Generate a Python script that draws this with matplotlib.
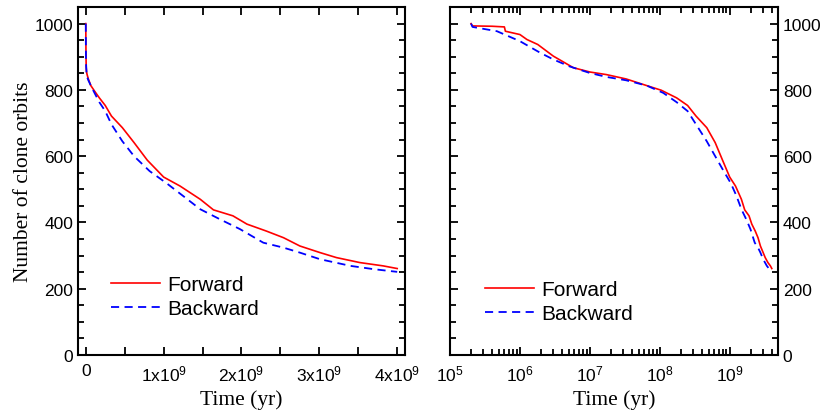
import matplotlib
import matplotlib.pyplot as plt
from matplotlib.ticker import MultipleLocator, LogLocator, NullFormatter, FixedLocator

matplotlib.use('Agg')

# surviving clones vs time (yr)
fwd_t = [2.0e5, 2.1e5, 4.0e5, 6.0e5, 6.2e5, 1.0e6, 1.26e6, 1.8e6, 3.0e6, 5.8e6,
         1.0e7, 1.74e7, 3.3e7, 6.5e7, 1.05e8, 1.74e8, 2.5e8, 3.3e8, 4.7e8, 6.2e8,
         7.9e8, 1.0e9, 1.21e9, 1.47e9, 1.64e9, 1.89e9, 2.07e9, 2.32e9, 2.54e9,
         2.75e9, 3.01e9, 3.22e9, 3.52e9, 3.82e9, 4.0e9]
fwd_n = [1000, 993, 992, 990, 977, 967, 952, 937, 902, 867,
         854, 846, 833, 813, 799, 776, 753, 721, 686, 641,
         588, 537, 510, 470, 438, 420, 395, 374, 354,
         329, 309, 294, 279, 269, 261]

bwd_t = [2.0e5, 2.1e5, 4.7e5, 1.0e6, 1.95e6, 3.0e6, 5.1e6, 1.0e7, 1.74e7, 3.3e7,
         6.5e7, 1.12e8, 1.74e8, 2.5e8, 3.3e8, 4.7e8, 6.2e8, 8.2e8, 1.04e9, 1.25e9,
         1.47e9, 1.72e9, 1.98e9, 2.28e9, 2.54e9, 2.75e9, 3.01e9, 3.4e9, 3.7e9, 4.0e9]
bwd_n = [1000, 990, 977, 947, 912, 892, 871, 851, 839, 829,
         813, 791, 763, 736, 696, 645, 600, 555, 518, 480,
         440, 410, 380, 339, 324, 309, 289, 269, 259, 251]

lin_ticks = [0, 1e9, 2e9, 3e9, 4e9]
lin_labels = ['0', r'1x10$^9$', r'2x10$^9$', r'3x10$^9$', r'4x10$^9$']

plt.rcParams['font.family'] = ['Liberation Sans', 'DejaVu Sans']
plt.rcParams['mathtext.fontset'] = 'custom'
plt.rcParams['mathtext.rm'] = 'Liberation Sans'
plt.rcParams['mathtext.it'] = 'Liberation Sans:italic'
plt.rcParams['mathtext.bf'] = 'Liberation Sans:bold'

fig = plt.figure(figsize=(8.27, 4.14), dpi=100)
ax1 = fig.add_axes([0.0943, 0.140, 0.3954, 0.8406])
ax2 = fig.add_axes([0.5441, 0.140, 0.3966, 0.8406])

label_font = dict(family='Liberation Serif', fontsize=15.5)

for ax in (ax1, ax2):
    ax.plot(fwd_t, fwd_n, color='#ff0000', lw=1.2, label='Forward')
    ax.plot(bwd_t, bwd_n, color='#0000ff', lw=1.3, dashes=(4.5, 3), label='Backward')
    ax.set_ylim(0, 1050)
    ax.yaxis.set_major_locator(MultipleLocator(200))
    ax.yaxis.set_minor_locator(MultipleLocator(50))
    [s.set_linewidth(1.5) for s in ax.spines.values()]
    ax.tick_params(which='both', direction='in', top=True, right=True, width=1.3,
                   labelsize=12.5)
    ax.tick_params(which='major', length=5.5)
    ax.tick_params(which='minor', length=4)
    ax.set_xlabel('Time (yr)', labelpad=4, **label_font)

# left: linear time
ax1.set_xlim(-0.1e9, 4.1e9)
ax1.xaxis.set_major_locator(FixedLocator(lin_ticks))
ax1.set_xticklabels(lin_labels)
ax1.xaxis.set_minor_locator(FixedLocator([0.5e9, 1.5e9, 2.5e9, 3.5e9]))
ax1.tick_params(axis='x', which='minor', length=5.5)
ax1.tick_params(axis='x', pad=6)
ax1.set_ylabel('Number of clone orbits', labelpad=1, **label_font)
ax1.legend(loc='lower left', frameon=False, fontsize=15, handlelength=2.35,
           handletextpad=0.35, labelspacing=0.25, borderpad=0, borderaxespad=0,
           bbox_to_anchor=(0.10, 0.105))

# right: log time
ax2.set_xscale('log')
ax2.set_xlim(1e5, 4.9e9)
ax2.xaxis.set_major_locator(LogLocator(base=10, numticks=10))
ax2.xaxis.set_minor_locator(LogLocator(base=10, subs=range(2, 10), numticks=10))
ax2.xaxis.set_minor_formatter(NullFormatter())
ax2.tick_params(axis='x', pad=6)
ax2.tick_params(axis='y', labelleft=False, labelright=True)
ax2.legend(loc='lower left', frameon=False, fontsize=15, handlelength=2.35,
           handletextpad=0.35, labelspacing=0.25, borderpad=0, borderaxespad=0,
           bbox_to_anchor=(0.107, 0.092))

plt.savefig('out.png', dpi=100)
plt.close()
